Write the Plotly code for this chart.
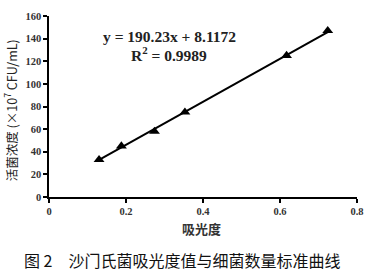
import numpy as np
import plotly.graph_objects as go

# Data
absorbance = [0.13, 0.188, 0.274, 0.353, 0.617, 0.724]
concentration = [33, 45, 58, 75, 125, 147]
slope = 190.23
intercept = 8.1172
r2 = 0.9989
x_ticks = [0, 0.2, 0.4, 0.6, 0.8]
y_ticks = [0, 20, 40, 60, 80, 100, 120, 140, 160]

fit_x = np.array([min(absorbance), max(absorbance)])
fit_y = slope * fit_x + intercept

W, H = 375, 275
ML, MR, MT, MB = 49, 11, 11, 78
PW, PH = W - ML - MR, H - MT - MB


def px(x):
    return (x - ML) / PW


def py(y):
    return (H - MB - y) / PH


fig = go.Figure()
fig.add_trace(go.Scatter(x=fit_x, y=fit_y, mode="lines",
                         line=dict(color="black", width=2), showlegend=False))
fig.add_trace(go.Scatter(x=absorbance, y=concentration, mode="markers",
                         marker=dict(symbol="triangle-up", size=9.5, color="black"),
                         showlegend=False))

tickfont = dict(family="Liberation Serif", size=10.5, color="#333")
fig.update_layout(
    width=W, height=H,
    margin=dict(l=ML, r=MR, t=MT, b=MB),
    plot_bgcolor="white", paper_bgcolor="white",
    xaxis=dict(range=[0, 0.8], tickvals=x_ticks, ticktext=["<b>%g</b>" % v for v in x_ticks],
               showgrid=False, zeroline=False, showline=True, linecolor="black", linewidth=1.5,
               ticks="outside", ticklen=4, tickwidth=1.5, tickcolor="black", tickfont=tickfont),
    yaxis=dict(range=[0, 160], tickvals=y_ticks, ticktext=["<b>%g</b>" % v for v in y_ticks],
               showgrid=False, zeroline=False, showline=True, linecolor="black", linewidth=1.5,
               ticks="outside", ticklen=4, tickwidth=1.5, tickcolor="black", tickfont=tickfont),
)


def note(x, y, text, size, family, angle=0, color="#222"):
    fig.add_annotation(x=px(x), y=py(y), xref="paper", yref="paper", showarrow=False,
                       xanchor="center", yanchor="middle", text=text, textangle=angle,
                       font=dict(family=family, size=size, color=color))


note(172, 32, "<b>y = %.2fx + %.4f</b>" % (slope, intercept), 15.5, "Liberation Serif")
note(172, 50, "<b>R<sup>2</sup> = %.4f</b>" % r2, 15.5, "Liberation Serif")
note(10, 108, "活菌浓度 (×10<sup>7</sup> CFU/mL)", 12.5, "Noto Sans CJK SC, Liberation Serif", angle=-90)
note(205, 229, "<b>吸光度</b>", 13, "Noto Sans CJK SC", color="#333")
note(185, 262, "图 2　沙门氏菌吸光度值与细菌数量标准曲线", 16, "Noto Sans CJK SC", color="#111")

fig.write_html("out.html")
